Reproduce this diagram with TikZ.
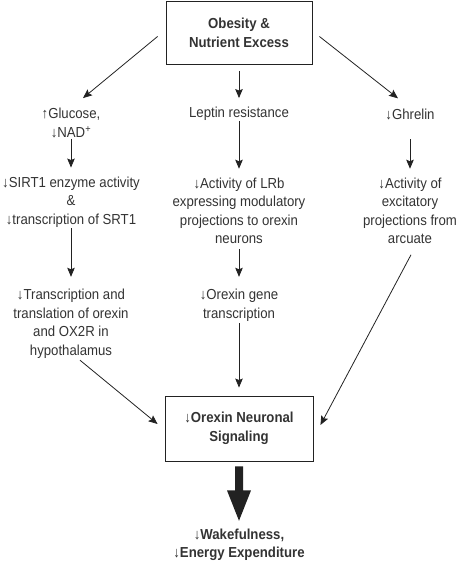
\documentclass[tikz,border=0pt]{standalone}
\usepackage{fontspec}
\setmainfont{Liberation Sans}[FakeStretch=0.91]
\usetikzlibrary{arrows.meta}
\definecolor{txt}{HTML}{333333}
\definecolor{ln}{HTML}{222222}
\newcommand{\fs}{\fontsize{14.5}{18.5}\selectfont}
\tikzset{
  lbl/.style={align=center, inner sep=0pt, font=\fs, text=txt},
  bx/.style={draw=ln, line width=0.9pt, minimum width=146pt, minimum height=64pt, align=center, font=\fs\bfseries, text=txt, inner sep=0pt},
  arr/.style={draw=ln, line width=0.8pt, -{Stealth[length=9pt,width=7.5pt,inset=1.5pt]}},
  bigarrow/.style={fill=ln, draw=none},
}
\begin{document}
\begin{tikzpicture}[x=1pt,y=-1pt]
\useasboundingbox (0,0) rectangle (458,563);
% boxes
\node[bx, minimum height=63pt] (top) at (239,33) {Obesity \&\\Nutrient Excess};
\node[bx, minimum width=148pt, minimum height=65pt] (obox) at (239,428.5) {↓Orexin Neuronal\\Signaling};
% row 1
\node[lbl] (gluc) at (71,123) {↑Glucose,\\↓NAD\textsuperscript{+}};
\node[lbl] (lep) at (239,114) {Leptin resistance};
\node[lbl] (ghr) at (410,114) {↓Ghrelin};
% row 2
\node[lbl] (sirt) at (71,202) {↓SIRT1 enzyme activity\\\&\\↓transcription of SRT1};
\node[lbl] (lrb) at (239,211) {↓Activity of LRb\\expressing modulatory\\projections to orexin\\neurons};
\node[lbl] (arc) at (410,211) {↓Activity of\\excitatory\\projections from\\arcuate};
% row 3
\node[lbl] (trans) at (71,323.5) {↓Transcription and\\translation of orexin\\and OX2R in\\hypothalamus};
\node[lbl] (gene) at (239,305) {↓Orexin gene\\transcription};
% bottom
\node[lbl, font=\fs\bfseries] (wake) at (239,545) {↓Wakefulness,\\↓Energy Expenditure};
% arrows
\draw[arr] ([shift={(-8pt,-3.5pt)}]top.west) -- ([shift={(12pt,10pt)}]gluc.north);
\draw[arr] ([yshift=-6pt]top.south) -- ([yshift=9pt]lep.north);
\draw[arr] ([shift={(7pt,-3.5pt)}]top.east) -- ([shift={(-12pt,10pt)}]ghr.north);
\draw[arr] ([yshift=-1pt]gluc.south) -- ([yshift=9pt]sirt.north);
\draw[arr] ([yshift=0pt]lep.south) -- ([yshift=9pt]lrb.north);
\draw[arr] ([yshift=-19.5pt]ghr.south) -- ([yshift=9pt]arc.north);
\draw[arr] ([yshift=-1pt]sirt.south) -- ([yshift=12pt]trans.north);
\draw[arr] ([yshift=-4.5pt]lrb.south) -- ([yshift=12pt]gene.north);
\draw[arr] ([yshift=-2pt]gene.south) -- ([yshift=8pt]obox.north);
\draw[arr] ([shift={(9pt,-2pt)}]trans.south) -- ([shift={(-7pt,4.5pt)}]obox.west);
\draw[arr] ([shift={(1pt,-10.5pt)}]arc.south) -- ([shift={(7pt,3.5pt)}]obox.east);
% thick arrow obox -> wake
\path[bigarrow] ([shift={(-4pt,-5pt)}]obox.south) -- ([shift={(-4pt,-29pt)}]obox.south)
  -- ([shift={(-12pt,-29pt)}]obox.south) -- ([yshift=8pt]wake.north)
  -- ([shift={(12pt,-29pt)}]obox.south) -- ([shift={(4pt,-29pt)}]obox.south)
  -- ([shift={(4pt,-5pt)}]obox.south) -- cycle;
\end{tikzpicture}
\end{document}
